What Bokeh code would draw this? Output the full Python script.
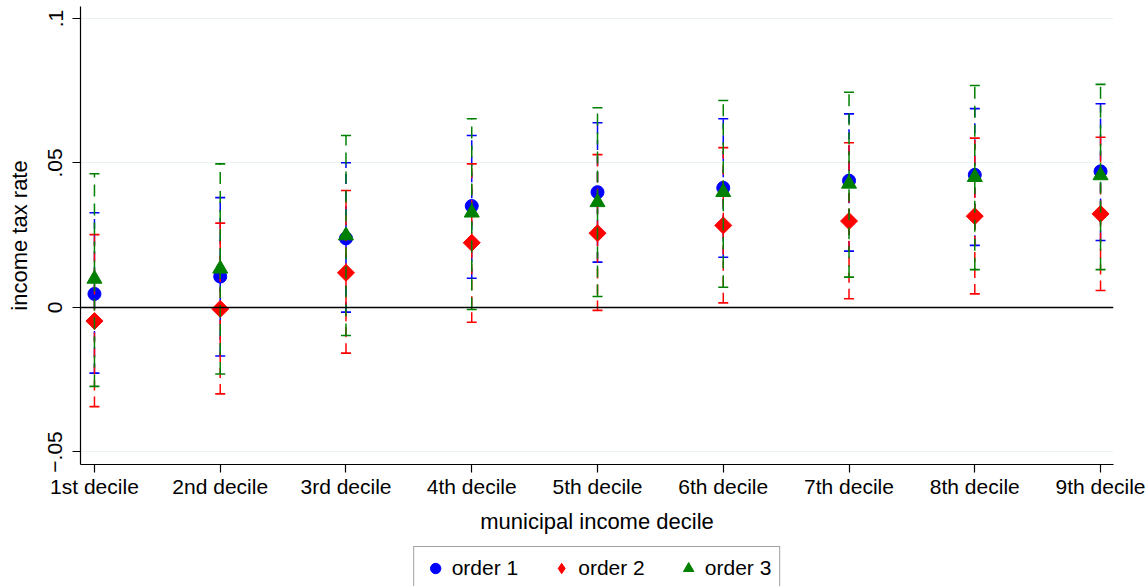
import math
from bokeh.plotting import figure
from bokeh.layouts import column
from bokeh.models import (Range1d, FixedTicker, Span, Legend, LegendItem, ColumnDataSource)
from bokeh.embed import file_html
from bokeh.resources import INLINE

# ---- data ----
decile_labels = ["1st decile", "2nd decile", "3rd decile", "4th decile", "5th decile",
                 "6th decile", "7th decile", "8th decile", "9th decile"]
decile_pos = [1, 2, 3, 4, 5, 6, 7, 8, 9]

o1_est = [0.0047, 0.0107, 0.0239, 0.0351, 0.0399, 0.0414, 0.0439, 0.0459, 0.0471]
o1_lo = [-0.0227, -0.0168, -0.0016, 0.0101, 0.0157, 0.0174, 0.0195, 0.0215, 0.0232]
o1_hi = [0.0328, 0.0380, 0.0501, 0.0595, 0.0639, 0.0653, 0.0670, 0.0688, 0.0705]

o2_est = [-0.0047, -0.0005, 0.0120, 0.0224, 0.0257, 0.0284, 0.0299, 0.0316, 0.0324]
o2_lo = [-0.0343, -0.0299, -0.0158, -0.0051, -0.0010, 0.0016, 0.0030, 0.0047, 0.0059]
o2_hi = [0.0252, 0.0292, 0.0405, 0.0497, 0.0529, 0.0553, 0.0570, 0.0586, 0.0589]

o3_est = [0.0099, 0.0134, 0.0249, 0.0328, 0.0364, 0.0399, 0.0428, 0.0451, 0.0457]
o3_lo = [-0.0273, -0.0230, -0.0097, -0.0007, 0.0038, 0.0070, 0.0105, 0.0131, 0.0131]
o3_hi = [0.0463, 0.0497, 0.0595, 0.0653, 0.0691, 0.0716, 0.0745, 0.0768, 0.0772]

series_names = ["order 1", "order 2", "order 3"]
y_ticks = [-0.05, 0.0, 0.05, 0.1]
y_tick_labels = ["\u2212.05", "0", ".05", ".1"]

FONT = "Liberation Sans"
FS = "21px"
FS_TITLE = "22px"

p = figure(width=1147, height=545, output_backend="svg", toolbar_location=None,
           x_range=Range1d(0.889, 9.103), y_range=Range1d(-0.05433, 0.10415),
           min_border_left=80, min_border_right=34, min_border_top=6, min_border_bottom=81,
           background_fill_color="white", border_fill_color="white")
p.outline_line_color = None

# axes
p.xaxis.ticker = FixedTicker(ticks=decile_pos)
p.xaxis.major_label_overrides = {k: v for k, v in zip(decile_pos, decile_labels)}
p.yaxis.ticker = FixedTicker(ticks=y_ticks)
p.yaxis.major_label_overrides = {k: v for k, v in zip(y_ticks, y_tick_labels)}
p.yaxis.major_label_orientation = "vertical"
p.xaxis.axis_label = "municipal income decile"
p.yaxis.axis_label = "income tax rate"
for ax in (p.xaxis, p.yaxis):
    ax.axis_line_color = "black"
    ax.axis_line_width = 1.2
    ax.major_tick_line_color = "black"
    ax.major_tick_line_width = 1.2
    ax.major_tick_out = 8
    ax.major_tick_in = 0
    ax.minor_tick_line_color = None
    ax.major_label_text_font = FONT
    ax.major_label_text_font_size = FS
    ax.major_label_text_color = "black"
    ax.axis_label_text_font = FONT
    ax.axis_label_text_font_size = FS_TITLE
    ax.axis_label_text_font_style = "normal"
    ax.axis_label_text_color = "black"
p.xaxis.major_label_standoff = 2
p.xaxis.axis_label_standoff = 8
p.yaxis.major_label_standoff = 10
p.yaxis.axis_label_standoff = 14

p.xgrid.grid_line_color = None
p.ygrid.ticker = FixedTicker(ticks=[-0.05, 0.05, 0.1])
p.ygrid.grid_line_color = "#EAF2F3"
p.ygrid.grid_line_width = 1.2

p.add_layout(Span(location=0, dimension="width", line_color="black", line_width=1.5))

colors = ["#0000FF", "#FF0000", "#008000"]
dashes = ["10 6", "10 6", "12 7"]
ests = [o1_est, o2_est, o3_est]
los = [o1_lo, o2_lo, o3_lo]
his = [o1_hi, o2_hi, o3_hi]

# legend strip below the chart (same data, ranges that keep the markers out of view)
leg_fig = figure(width=1147, height=41, output_backend="svg", toolbar_location=None,
                 x_range=Range1d(100, 101), y_range=Range1d(100, 101),
                 x_axis_type=None, y_axis_type=None,
                 min_border_left=49, min_border_right=0, min_border_top=1, min_border_bottom=0,
                 background_fill_color="white", border_fill_color="white")
leg_fig.outline_line_color = None
leg_fig.grid.visible = False

legend_renderers = []
for i in range(3):
    src = ColumnDataSource(dict(x=decile_pos, est=ests[i], lo=los[i], hi=his[i]))
    p.segment(x0="x", y0="lo", x1="x", y1="hi", source=src, line_color=colors[i],
              line_width=1.5, line_dash=dashes[i])
    p.scatter(x="x", y="lo", source=src, marker="dash", size=10, line_color=colors[i], line_width=1.6)
    p.scatter(x="x", y="hi", source=src, marker="dash", size=10, line_color=colors[i], line_width=1.6)
    if i == 0:
        kw = dict(marker="circle", size=13)
        lkw = dict(marker="circle", size=13)
    elif i == 1:
        kw = dict(marker="square", size=12, angle=math.pi / 4)
        lkw = dict(marker="diamond", size=16)
    else:
        kw = dict(marker="triangle", size=15)
        lkw = dict(marker="triangle", size=15)
    p.scatter(x="x", y="est", source=src, fill_color=colors[i], line_color=colors[i], **kw)
    lr = leg_fig.scatter(x="x", y="est", source=src, fill_color=colors[i], line_color=colors[i], **lkw)
    legend_renderers.append(lr)

legend = Legend(items=[LegendItem(label=series_names[i], renderers=[legend_renderers[i]])
                       for i in range(3)],
                orientation="horizontal", location="top_center",
                glyph_width=26, glyph_height=26, label_standoff=4, spacing=30,
                padding=8, margin=0,
                label_text_font=FONT, label_text_font_size=FS, label_text_color="black",
                border_line_color="#444444", border_line_width=1.2,
                background_fill_color="white", background_fill_alpha=1.0)
leg_fig.add_layout(legend, "center")

layout = column(p, leg_fig, spacing=0)
open("out.html", "w").write(file_html(layout, INLINE))
